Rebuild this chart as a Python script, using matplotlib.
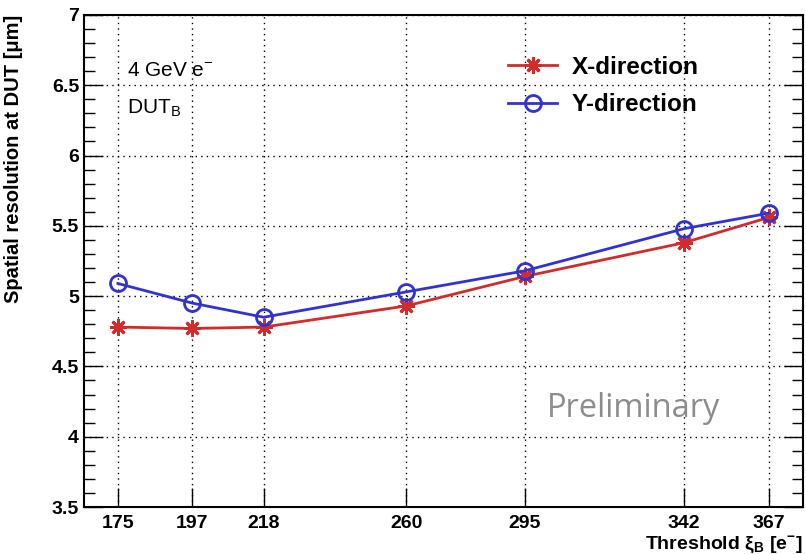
import matplotlib.pyplot as plt
from matplotlib.ticker import MultipleLocator, FixedLocator

# data
thresholds = [175, 197, 218, 260, 295, 342, 367]
res_x = [4.78, 4.77, 4.78, 4.93, 5.14, 5.38, 5.56]
res_y = [5.09, 4.95, 4.85, 5.03, 5.18, 5.48, 5.59]

plt.rcParams['font.family'] = ['Liberation Sans', 'DejaVu Sans']
plt.rcParams['mathtext.fontset'] = 'custom'
plt.rcParams['mathtext.rm'] = 'Liberation Sans'
plt.rcParams['mathtext.bf'] = 'Liberation Sans:bold'

fig = plt.figure(figsize=(8.06, 5.54), dpi=100)
ax = fig.add_axes([0.1042, 0.0848, 0.8918, 0.8882])

red = '#d22b2b'
blue = '#3232d0'
ax.plot(thresholds, res_x, '-', color=red, lw=2, marker=(8, 2, 0), ms=12,
        mew=2, label='X-direction', zorder=3)
ax.plot(thresholds, res_y, '-', color=blue, lw=2, marker='o', ms=11.5,
        mfc='none', mew=2, label='Y-direction', zorder=3)

ax.set_xlim(165, 377)
ax.set_ylim(3.5, 7)
ax.xaxis.set_major_locator(FixedLocator(thresholds))
ax.yaxis.set_minor_locator(MultipleLocator(0.1))
ax.set_yticks([3.5, 4, 4.5, 5, 5.5, 6, 6.5, 7])
ax.set_yticklabels(['3.5', '4', '4.5', '5', '5.5', '6', '6.5', '7'])
ax.grid(True, which='major', color='black', ls=(0, (1, 3)), lw=1)
ax.tick_params(which='both', direction='in', left=True, right=True)
ax.tick_params(which='major', length=14, width=1, labelsize=14)
ax.tick_params(which='minor', length=8, width=1)
ax.tick_params(axis='x', top=False, pad=6)
for lbl in ax.get_xticklabels() + ax.get_yticklabels():
    lbl.set_fontweight('bold')
for sp in ax.spines.values():
    sp.set_linewidth(1.5)

ax.set_ylabel('Spatial resolution at DUT [μm]', fontsize=14.5,
              fontweight='bold')
ax.yaxis.set_label_coords(-0.085, 1.0)
ax.yaxis.label.set_horizontalalignment('right')
ax.set_xlabel(r'Threshold ξ$_{\mathbf{B}}$ [e$^{\mathbf{-}}$]', fontsize=14,
              fontweight='bold')
ax.xaxis.set_label_coords(1.0, -0.055)
ax.xaxis.label.set_horizontalalignment('right')
ax.xaxis.label.set_verticalalignment('top')

ax.text(0.06, 0.888, r'4 GeV e$^{-}$', transform=ax.transAxes, fontsize=15,
        va='center')
ax.text(0.06, 0.81, r'DUT$_{\mathrm{B}}$', transform=ax.transAxes, fontsize=15,
        va='center')
ax.text(0.764, 0.201, 'Preliminary', transform=ax.transAxes, fontsize=23.5,
        color='#8c8c8c', family='Open Sans', va='center', ha='center')

leg = ax.legend(loc='upper left', bbox_to_anchor=(0.56, 0.962), frameon=False,
                handlelength=2.0, handletextpad=0.6, labelspacing=0.6,
                prop={'weight': 'bold', 'size': 17.5})

fig.savefig('out.png', dpi=100)
